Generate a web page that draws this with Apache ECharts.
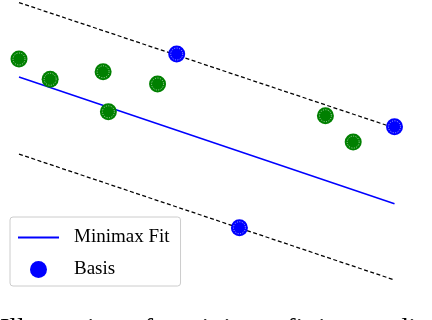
<!DOCTYPE html>
<html>
<head>
<meta charset="utf-8">
<script src="https://cdn.jsdelivr.net/npm/echarts@6/dist/echarts.min.js"></script>
<style>html,body{margin:0;padding:0;background:#fff;}#c{width:432px;height:320px;}</style>
</head>
<body>
<div id="c"></div>
<script>
// data (x in [0,1], y in [0,1])
const samplePoints = [[0, 0.795], [0.083, 0.722], [0.224, 0.749], [0.238, 0.605], [0.369, 0.705], [0.816, 0.591], [0.890, 0.496]];
const basisPoints = [[0.420, 0.813], [1.0, 0.551], [0.587, 0.188]];
const fitLine = [[0, 0.730], [1, 0.274]];
const upperBound = [[0, 0.998], [1, 0.547]];
const lowerBound = [[0, 0.453], [1, 0.0]];
const captionText = 'Illustration of a minimax fit in one dimension.';

const chart = echarts.init(document.getElementById('c'));
const serif = '"Liberation Serif", "DejaVu Serif", serif';
const ring = (data, size) => ({
  type: 'scatter', data: data, symbol: 'circle', symbolSize: size, silent: true, z: 5,
  itemStyle: { color: 'rgba(0,0,0,0)', borderColor: '#ffffff', borderWidth: 0.8, borderType: [1, 1.5] },
  emphasis: { disabled: true }, tooltip: { show: false }
});
chart.setOption({
  animation: false,
  grid: { left: 19, right: 37.5, top: 2, bottom: 40 },
  xAxis: { type: 'value', min: 0, max: 1, show: false },
  yAxis: { type: 'value', min: 0, max: 1, show: false },
  legend: {
    data: [
      { name: 'Minimax Fit', itemStyle: { opacity: 0 } },
      { name: 'Basis' }
    ],
    orient: 'vertical', left: 10, top: 217,
    padding: [11, 11, 7, 7], itemGap: 13, itemWidth: 41, itemHeight: 17,
    backgroundColor: '#ffffff', borderColor: '#cccccc', borderWidth: 1, borderRadius: 3,
    textStyle: { fontFamily: serif, fontSize: 19, color: '#000', padding: [0, 0, 0, 10] },
    z: 10
  },
  graphic: [{
    type: 'text', left: 0, top: 316,
    style: { text: captionText, font: '28px ' + serif, fill: '#000' }
  }],
  series: [
    { type: 'line', name: 'upper', data: upperBound, showSymbol: false, silent: true,
      lineStyle: { color: '#000', width: 1.25, type: [4, 2.5] } },
    { type: 'line', name: 'lower', data: lowerBound, showSymbol: false, silent: true,
      lineStyle: { color: '#000', width: 1.25, type: [4, 2.5] } },
    { type: 'line', name: 'Minimax Fit', data: fitLine, showSymbol: false, symbol: 'none',
      lineStyle: { color: '#0000ff', width: 1.5 }, itemStyle: { color: '#0000ff' } },
    { type: 'scatter', name: 'Samples', data: samplePoints, symbol: 'circle', symbolSize: 17, z: 4,
      itemStyle: { color: '#008000', opacity: 1 } },
    ring(samplePoints, 12),
    { type: 'scatter', name: 'Basis', data: basisPoints, symbol: 'circle', symbolSize: 17, z: 4,
      itemStyle: { color: '#0000ff', opacity: 1 } },
    ring(basisPoints, 12)
  ]
});
</script>
</body>
</html>
